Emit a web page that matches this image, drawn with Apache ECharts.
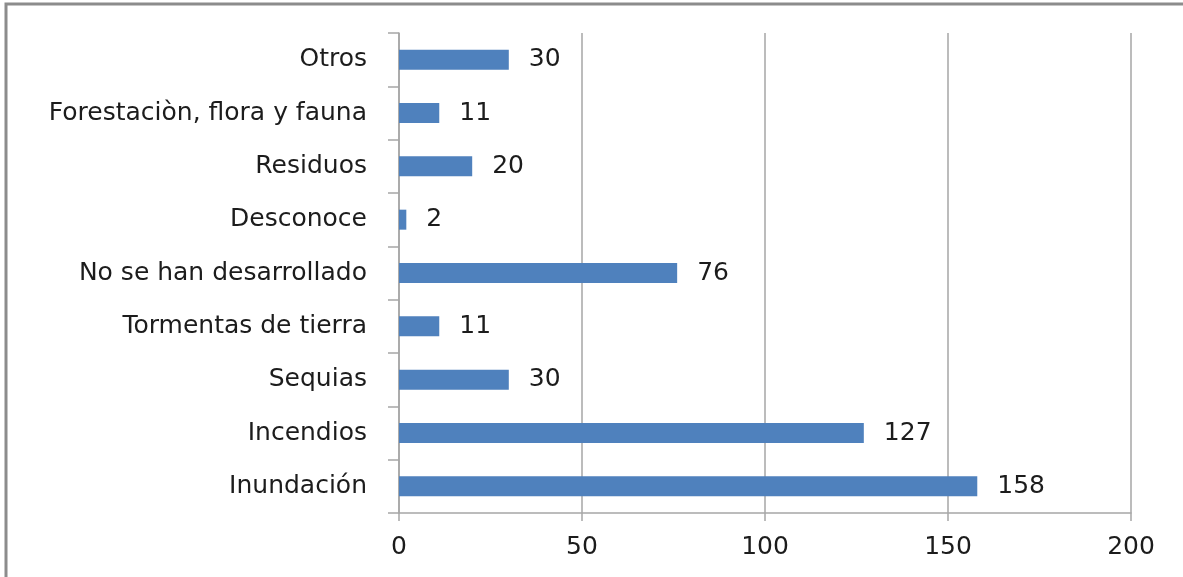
<!DOCTYPE html>
<html>
<head>
<meta charset="utf-8">
<script src="https://cdn.jsdelivr.net/npm/echarts@6/dist/echarts.min.js"></script>
<style>
  html, body { margin: 0; padding: 0; background: #fff; }
  #chart { width: 1183px; height: 577px; }
</style>
</head>
<body>
<div id="chart"></div>
<script>
// Categories listed bottom to top
const categories = [
  'Inundación',
  'Incendios',
  'Sequias',
  'Tormentas de tierra',
  'No se han desarrollado',
  'Desconoce',
  'Residuos',
  'Forestaciòn, flora y fauna',
  'Otros'
];
const counts = [158, 127, 30, 11, 76, 2, 20, 11, 30];
const valueTicks = [0, 50, 100, 150, 200];

const fontFamily = '"DejaVu Sans", "Open Sans", sans-serif';
const textColor = '#1c1c1c';
const gridColor = '#a6a6a6';

const chart = echarts.init(document.getElementById('chart'), null, { renderer: 'canvas' });
chart.setOption({
  animation: false,
  backgroundColor: '#ffffff',
  graphic: [{
    type: 'rect',
    shape: { x: 6, y: 4, width: 1300, height: 700 },
    style: { fill: 'none', stroke: '#8c8c8c', lineWidth: 3 },
    silent: true
  }],
  grid: { left: 399, right: 52, top: 33, bottom: 64, containLabel: false },
  xAxis: {
    type: 'value',
    min: valueTicks[0],
    max: valueTicks[valueTicks.length - 1],
    interval: 50,
    axisLine: { show: true, lineStyle: { color: gridColor, width: 1.5 } },
    axisTick: { show: true, length: 8, lineStyle: { color: gridColor, width: 1.5 } },
    splitLine: { show: true, lineStyle: { color: gridColor, width: 1.5 } },
    axisLabel: { color: textColor, fontFamily, fontSize: 25, margin: 22 }
  },
  yAxis: {
    type: 'category',
    data: categories,
    axisLine: { show: true, lineStyle: { color: gridColor, width: 1.5 } },
    axisTick: { show: true, length: 11, lineStyle: { color: gridColor, width: 1.5 } },
    axisLabel: { color: textColor, fontFamily, fontSize: 25, margin: 32 }
  },
  series: [{
    type: 'bar',
    data: counts,
    barWidth: 20,
    itemStyle: { color: '#4f81bd' },
    label: {
      show: true,
      position: 'right',
      distance: 20,
      color: textColor,
      fontFamily,
      fontSize: 25
    }
  }]
});
</script>
</body>
</html>
